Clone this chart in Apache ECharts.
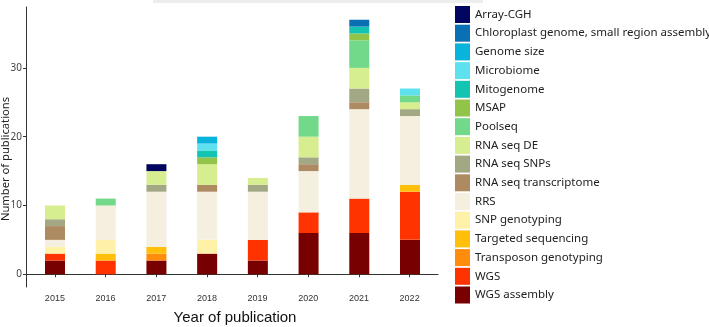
<!DOCTYPE html>
<html>
<head>
<meta charset="utf-8">
<script src="https://cdn.jsdelivr.net/npm/echarts@6/dist/echarts.min.js"></script>
<style>
  html, body { margin: 0; padding: 0; background: #fff; }
  #chart { width: 709px; height: 327px; }
</style>
</head>
<body>
<div id="chart"></div>
<script>
const years = [2015, 2016, 2017, 2018, 2019, 2020, 2021, 2022];
const yTicks = [0, 10, 20, 30];

// stack order: bottom first
const methods = [
  'WGS assembly', 'WGS', 'Transposon genotyping', 'Targeted sequencing',
  'SNP genotyping', 'RRS', 'RNA seq transcriptome', 'RNA seq SNPs',
  'RNA seq DE', 'Poolseq', 'MSAP', 'Mitogenome', 'Microbiome',
  'Genome size', 'Chloroplast genome, small region assembly', 'Array-CGH'
];
const colors = [
  '#780000', '#ff3300', '#ff8c0a', '#ffbf0a',
  '#fff1a8', '#f5efe0', '#ae8a62', '#a2a884',
  '#d6ee90', '#72d98a', '#93c44a', '#14c4b2', '#5ee1ee',
  '#08b3dc', '#0a6fb3', '#020660'
];

const wgsAssembly      = [2, 0, 2, 3, 2, 6, 6, 5];
const wgs              = [1, 2, 0, 0, 3, 3, 5, 7];
const transposon       = [0, 0, 1, 0, 0, 0, 0, 0];
const targeted         = [0, 1, 1, 0, 0, 0, 0, 1];
const snpGenotyping    = [1, 2, 0, 2, 0, 0, 0, 0];
const rrs              = [1, 5, 8, 7, 7, 6, 13, 10];
const rnaTranscriptome = [2, 0, 0, 1, 0, 1, 1, 0];
const rnaSnps          = [1, 0, 1, 0, 1, 1, 2, 1];
const rnaDe            = [2, 0, 2, 3, 1, 3, 3, 1];
const poolseq          = [0, 1, 0, 0, 0, 3, 4, 1];
const msap             = [0, 0, 0, 1, 0, 0, 1, 0];
const mitogenome       = [0, 0, 0, 1, 0, 0, 1, 0];
const microbiome       = [0, 0, 0, 1, 0, 0, 0, 1];
const genomeSize       = [0, 0, 0, 1, 0, 0, 0, 0];
const chloroplast      = [0, 0, 0, 0, 0, 0, 1, 0];
const arrayCgh         = [0, 0, 1, 0, 0, 0, 0, 0];

const counts = [
  wgsAssembly, wgs, transposon, targeted, snpGenotyping, rrs,
  rnaTranscriptome, rnaSnps, rnaDe, poolseq, msap, mitogenome,
  microbiome, genomeSize, chloroplast, arrayCgh
];

const chart = echarts.init(document.getElementById('chart'), null, { renderer: 'canvas' });

// bars live on a hidden category axis in grid 1; grid 0 carries the visible axes
const series = methods.map((name, i) => ({
  name: name,
  type: 'bar',
  stack: 'total',
  xAxisIndex: 1,
  yAxisIndex: 1,
  barWidth: 20,
  data: counts[i],
  itemStyle: { color: colors[i] },
  emphasis: { disabled: true }
}));

const axisLine = { show: true, lineStyle: { color: '#333', width: 1 } };
const yMin = -1.85, yMax = 38.85;

chart.setOption({
  backgroundColor: '#fff',
  animation: false,
  grid: [
    { left: 26, right: 271, top: 7, bottom: 40 },
    { left: 29.65, right: 273.65, top: 7, bottom: 40 }
  ],
  xAxis: [
    {
      type: 'value',
      gridIndex: 0,
      min: 2014.43,
      max: 2022.56,
      axisLine: axisLine,
      axisTick: { show: true, length: 3, customValues: years, lineStyle: { color: '#333' } },
      axisLabel: {
        customValues: years,
        formatter: v => String(v),
        color: '#333',
        fontFamily: 'Liberation Sans, Arial, sans-serif',
        fontSize: 9,
        margin: 7
      },
      splitLine: { show: false }
    },
    {
      type: 'category',
      gridIndex: 1,
      data: years,
      show: false
    }
  ],
  yAxis: [
    {
      type: 'value',
      gridIndex: 0,
      min: yMin,
      max: yMax,
      axisLine: axisLine,
      axisTick: { show: true, length: 3, customValues: yTicks, lineStyle: { color: '#333' } },
      axisLabel: {
        customValues: yTicks,
        color: '#444',
        fontFamily: 'Noto Sans, sans-serif',
        fontSize: 10,
        margin: 4
      },
      splitLine: { show: false }
    },
    {
      type: 'value',
      gridIndex: 1,
      min: yMin,
      max: yMax,
      show: false,
      splitLine: { show: false }
    }
  ],
  legend: {
    orient: 'vertical',
    left: 455,
    top: 6,
    padding: 0,
    icon: 'rect',
    itemWidth: 15,
    itemHeight: 17,
    itemGap: 1.7,
    selectedMode: false,
    data: methods.slice().reverse(),
    textStyle: {
      color: '#222',
      fontFamily: 'Noto Sans, sans-serif',
      fontSize: 11.5
    }
  },
  graphic: [
    {
      type: 'rect',
      shape: { x: 153, y: 0, width: 330, height: 3 },
      style: { fill: '#ededed' },
      silent: true
    },
    {
      type: 'text',
      x: 6,
      y: 159,
      rotation: Math.PI / 2,
      style: {
        text: 'Number of publications',
        fill: '#222',
        font: '11.2px "Noto Sans", sans-serif',
        align: 'center',
        verticalAlign: 'middle'
      },
      silent: true
    },
    {
      type: 'text',
      x: 235,
      y: 318,
      style: {
        text: 'Year of publication',
        fill: '#111',
        font: '15px "Liberation Sans", Arial, sans-serif',
        align: 'center',
        verticalAlign: 'middle'
      },
      silent: true
    }
  ],
  series: series
});
</script>
</body>
</html>
